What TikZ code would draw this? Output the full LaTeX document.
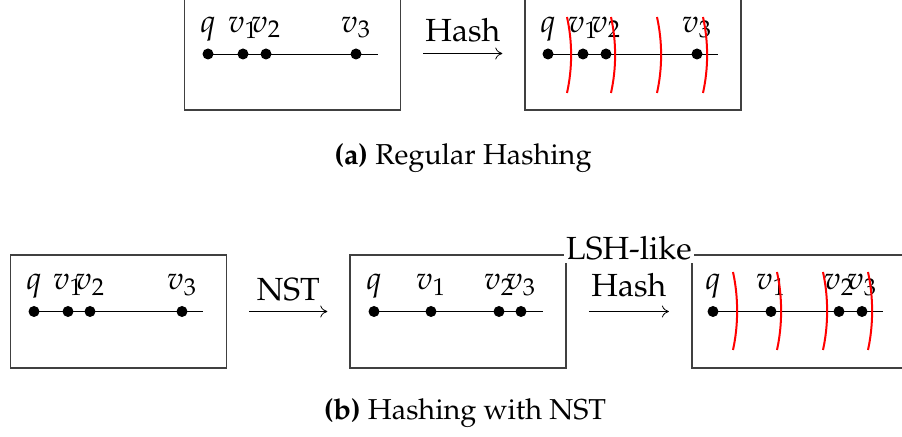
\documentclass[tikz,border=0pt]{standalone}
\usepackage[T1]{fontenc}
\usepackage{mathpazo}
\usetikzlibrary{positioning}
\usetikzlibrary{arrows.meta}

\begin{document}
\begin{tikzpicture}
  [
    x=0.5pt, y=-0.5pt,
    every node/.style={font=\fontsize{16}{19}\selectfont},
  ]
  \tikzset{
    >={To[length=3.5pt,width=6pt]},
    boxstyle/.style = {rectangle, draw=black!75, line width=0.8pt,
                       minimum width=108pt, minimum height=56.5pt, inner sep=0pt},
    dotstyle/.style = {circle, fill=black, inner sep=0pt, minimum size=5.5pt},
    cutstyle/.style = {red, line width=1pt},
    stepstyle/.style = {->, line width=0.4pt, shorten <=11pt, shorten >=11pt},
    captionstyle/.style = {font=\fontsize{14.4}{17}\selectfont},
  }
  \pgfdeclarelayer{linelayer}
  \pgfsetlayers{linelayer,main}

  \useasboundingbox (0,0) rectangle (902,437);

  % (a) regular hashing
  \node (boxa1) [boxstyle] at (292.5,53.5) {};
  \node (boxa2) [boxstyle, right=61.5pt of boxa1] {};

  \foreach \n/\l/\x in {q/q/208, v1/v_1/243, v2/v_2/266, v3/v_3/356}
    \node (a1\n) [dotstyle, label={[anchor=base, label distance=8pt]above:$\l$}] at (\x,54) {};
  \foreach \n/\l/\x in {q/q/548, v1/v_1/583, v2/v_2/606, v3/v_3/697}
    \node (a2\n) [dotstyle, label={[anchor=base, label distance=8pt]above:$\l$}] at (\x,54) {};
  \coordinate (a1end) at (378,54);
  \coordinate (a2end) at (718,54);

  \begin{pgfonlayer}{linelayer}
    \draw (a1q.center) -- (a1end);
    \draw (a2q.center) -- (a2end);
  \end{pgfonlayer}

  \draw[stepstyle] (boxa1) -- (boxa2) node[midway, anchor=base, yshift=6pt] (hasha) {Hash};

  \foreach \x in {567,611,657,703}
    \draw[cutstyle] (\x,17) .. controls +(5.5,25) and +(5.5,-25) .. (\x,93);

  \node (capa) [captionstyle] at (463,158) {\textbf{(a)} Regular Hashing};

  % (b) hashing with NST
  \node (boxb1) [boxstyle] at (118.5,311.5) {};
  \node (boxb2) [boxstyle, right=61pt of boxb1] {};
  \node (boxb3) [boxstyle, right=62pt of boxb2] {};

  \foreach \n/\l/\x in {q/q/34, v1/v_1/68, v2/v_2/90, v3/v_3/182}
    \node (b1\n) [dotstyle, label={[anchor=base, label distance=8pt]above:$\l$}] at (\x,311.5) {};
  \foreach \n/\l/\x in {q/q/374, v1/v_1/431, v2/v_2/499, v3/v_3/521}
    \node (b2\n) [dotstyle, label={[anchor=base, label distance=8pt]above:$\l$}] at (\x,311.5) {};
  \foreach \n/\l/\x in {q/q/713, v1/v_1/771, v2/v_2/839, v3/v_3/862}
    \node (b3\n) [dotstyle, label={[anchor=base, label distance=8pt]above:$\l$}] at (\x,311.5) {};
  \coordinate (b1end) at (203,311.5);
  \coordinate (b2end) at (543,311.5);
  \coordinate (b3end) at (883,311.5);

  \begin{pgfonlayer}{linelayer}
    \draw (b1q.center) -- (b1end);
    \draw (b2q.center) -- (b2end);
    \draw (b3q.center) -- (b3end);
  \end{pgfonlayer}

  \draw[stepstyle] (boxb1) -- (boxb2) node[midway, anchor=base, yshift=5.5pt] (nst) {NST};
  \draw[stepstyle] (boxb2) -- (boxb3) node[midway, anchor=base, yshift=7.25pt] (hashb) {Hash};
  \node (lshb) [anchor=base, fill=white, inner sep=1pt, yshift=18.5pt] at (hashb.base) {LSH-like};

  \foreach \x in {733,777,823,868}
    \draw[cutstyle] (\x,272) .. controls +(5.5,25) and +(5.5,-25) .. (\x,350);

  \node (capb) [captionstyle] at (465,413) {\textbf{(b)} Hashing with NST};
\end{tikzpicture}
\end{document}
